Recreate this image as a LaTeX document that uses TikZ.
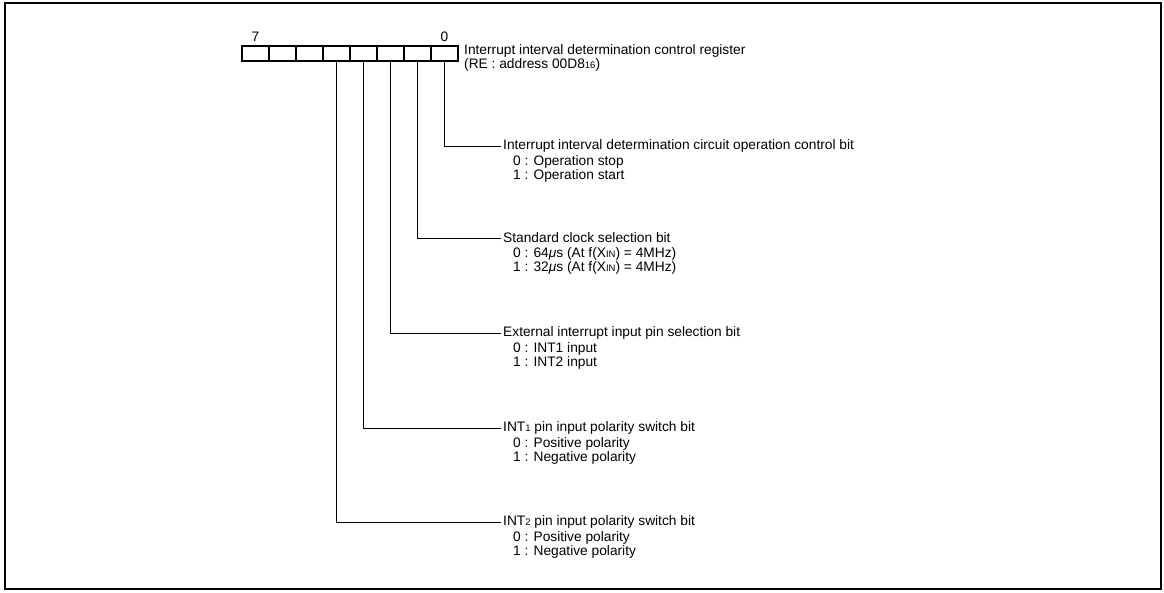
\documentclass[tikz,border=0pt]{standalone}
\usepackage{fontspec}
\setmainfont{Liberation Sans}
\usetikzlibrary{positioning}
\tikzset{
  bitcell/.style={
    rectangle,
    draw=black,
    line width=1.8pt,
    minimum width=27pt,
    minimum height=15pt,
    inner sep=0pt,
    outer sep=0pt
  },
  lead/.style={
    line width=0.9pt
  }
}
\newcommand{\lowsub}[1]{{\fontsize{9.5pt}{10pt}\selectfont #1}}

\begin{document}
\begin{tikzpicture}[
  x=1pt, y=-1pt,
  bitnum/.style={inner sep=0pt, font=\fontsize{13.75pt}{14pt}\selectfont},
  regname/.style={anchor=north west, align=left, inner sep=0pt, font=\fontsize{13.75pt}{14pt}\selectfont},
  bittitle/.style={anchor=west, inner sep=2pt, font=\fontsize{13.75pt}{14pt}\selectfont},
  bitvalues/.style={anchor=north west, align=left, inner sep=0pt, font=\fontsize{13.75pt}{14pt}\selectfont}
]
\useasboundingbox (0,0) rectangle (1164,592);

% Outer frame
\draw[line width=2pt] (5,3) rectangle (1161,589);

% Register cells, bit 7 on the left
\foreach \i in {7,...,0} {
  \node[bitcell] (b\i) at ({255.5+(7-\i)*27}, 53.5) {};
}
\node[bitnum, above=4pt of b7] (n7) {7};
\node[bitnum, above=4pt of b0] (n0) {0};

% Register name
\node[regname] (reg) at (464,44) {Interrupt interval determination control register\\(RE : address 00D8\lowsub{16})};

% Bit descriptions
\node[bittitle] (d0) at (501,146) {Interrupt interval determination circuit operation control bit};
\node[bitvalues] (v0) at (513,155) {0 : Operation stop\\1 : Operation start};

\node[bittitle] (d1) at (501,238) {Standard clock selection bit};
\node[bitvalues] (v1) at (513,247) {0 : 64{\itshape μ}s (At f(X\lowsub{IN}) = 4MHz)\\1 : 32{\itshape μ}s (At f(X\lowsub{IN}) = 4MHz)};

\node[bittitle] (d2) at (501,333) {External interrupt input pin selection bit};
\node[bitvalues] (v2) at (513,342) {0 : INT1 input\\1 : INT2 input};

\node[bittitle] (d3) at (501,428) {INT\lowsub{1} pin input polarity switch bit};
\node[bitvalues] (v3) at (513,437) {0 : Positive polarity\\1 : Negative polarity};

\node[bittitle] (d4) at (501,522) {INT\lowsub{2} pin input polarity switch bit};
\node[bitvalues] (v4) at (513,531) {0 : Positive polarity\\1 : Negative polarity};

% Leads from the bits
\draw[lead] (b0.south) |- (d0.west);
\draw[lead] (b1.south) |- (d1.west);
\draw[lead] (b2.south) |- (d2.west);
\draw[lead] (b3.south) |- (d3.west);
\draw[lead] (b4.south) |- (d4.west);

\end{tikzpicture}
\end{document}
